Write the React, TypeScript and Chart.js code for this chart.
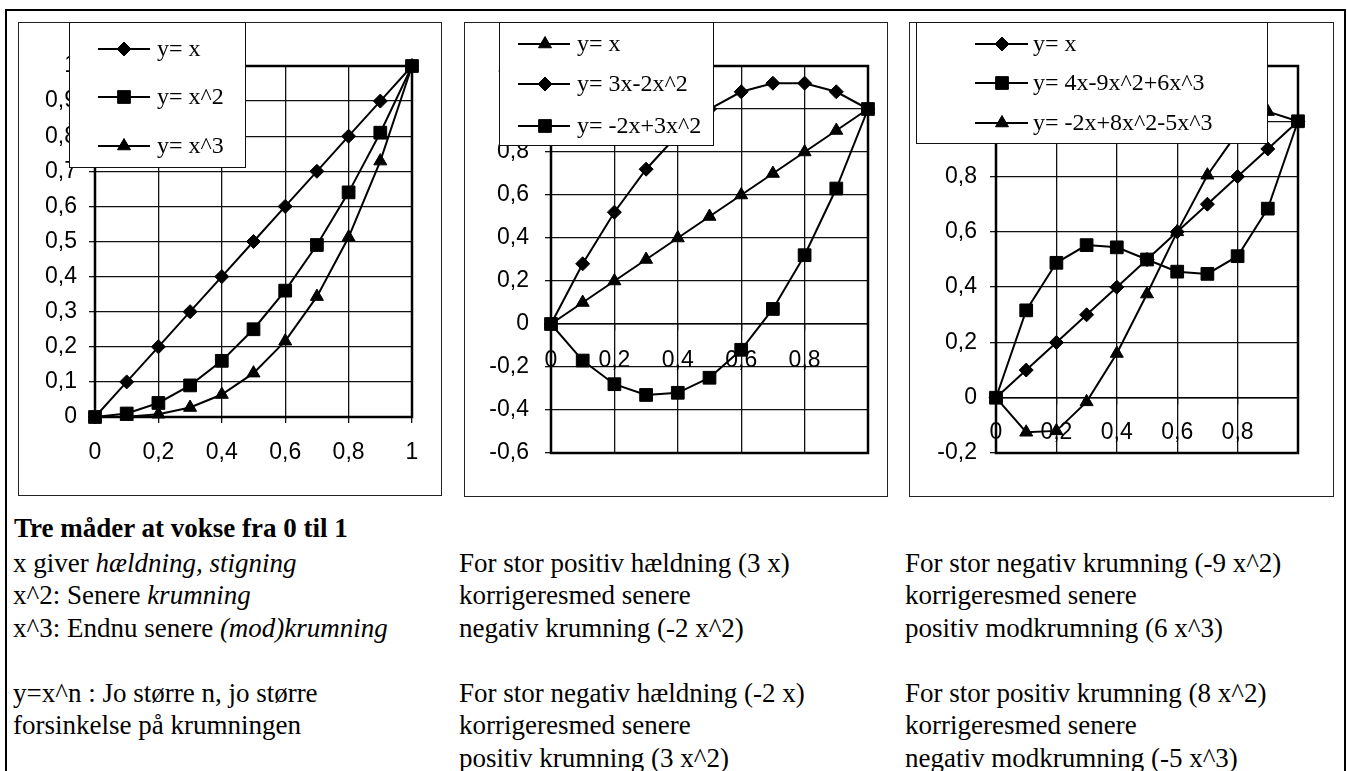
import React, { useEffect, useRef } from 'react';
import { Chart, registerables } from 'chart.js';

Chart.register(...registerables);

// ---------- DATA ----------
const xValues = [0, 0.1, 0.2, 0.3, 0.4, 0.5, 0.6, 0.7, 0.8, 0.9, 1];

const c1Labels = ['y= x', 'y= x^2', 'y= x^3'];
const c1Linear = [0, 0.1, 0.2, 0.3, 0.4, 0.5, 0.6, 0.7, 0.8, 0.9, 1];
const c1Square = [0, 0.01, 0.04, 0.09, 0.16, 0.25, 0.36, 0.49, 0.64, 0.81, 1];
const c1Cube = [0, 0.001, 0.008, 0.027, 0.064, 0.125, 0.216, 0.343, 0.512, 0.729, 1];

const c2Labels = ['y= x', 'y= 3x-2x^2', 'y= -2x+3x^2'];
const c2Linear = [0, 0.1, 0.2, 0.3, 0.4, 0.5, 0.6, 0.7, 0.8, 0.9, 1];
const c2Upper = [0, 0.28, 0.52, 0.72, 0.88, 1.0, 1.08, 1.12, 1.12, 1.08, 1.0];
const c2Lower = [0, -0.17, -0.28, -0.33, -0.32, -0.25, -0.12, 0.07, 0.32, 0.63, 1.0];

const c3Labels = ['y= x', 'y= 4x-9x^2+6x^3', 'y= -2x+8x^2-5x^3'];
const c3Linear = [0, 0.1, 0.2, 0.3, 0.4, 0.5, 0.6, 0.7, 0.8, 0.9, 1];
const c3CubicA = [0, 0.316, 0.488, 0.552, 0.544, 0.5, 0.456, 0.448, 0.512, 0.684, 1];
const c3CubicB = [0, -0.125, -0.12, -0.015, 0.16, 0.375, 0.6, 0.805, 0.96, 1.035, 1];

// ---------- STYLE ----------
const SERIF = '"Liberation Serif", "Times New Roman", "DejaVu Serif", serif';
const SANS = '"Liberation Sans", Arial, sans-serif';

type Marker = 'rectRot' | 'rect' | 'triangle';
const MARK_R: Record<Marker, number> = { rectRot: 7, rect: 9, triangle: 7.5 };

function fmt(v: number): string {
  const r = Math.round(v * 10) / 10;
  if (Math.abs(r) < 1e-9) return '0';
  return String(r).replace('.', ',');
}

function drawMarker(ctx: CanvasRenderingContext2D, style: Marker, x: number, y: number) {
  const r = MARK_R[style];
  ctx.beginPath();
  if (style === 'rectRot') {
    ctx.moveTo(x, y - r);
    ctx.lineTo(x + r, y);
    ctx.lineTo(x, y + r);
    ctx.lineTo(x - r, y);
  } else if (style === 'rect') {
    const s = Math.SQRT1_2 * r;
    ctx.rect(x - s, y - s, 2 * s, 2 * s);
  } else {
    for (let k = 0; k < 3; k++) {
      const a = (k * 2 * Math.PI) / 3;
      const px = x + Math.sin(a) * r;
      const py = y - Math.cos(a) * r;
      if (k === 0) ctx.moveTo(px, py);
      else ctx.lineTo(px, py);
    }
  }
  ctx.closePath();
  ctx.fill();
  ctx.stroke();
}

interface LegendSpec {
  x: number; y: number; w: number; h: number;
  lx1: number; lx2: number; mx: number; tx: number; rows: number[];
}

interface ChartSpec {
  left: number; top: number; width: number; height: number;
  labels: string[]; series: number[][]; markers: Marker[];
  yMin: number; yMax: number; yStep: number;
  yWidth: number; yPad: number;
  xAtZero: boolean; xHeight: number; xPad: number;
  padRight: number; padBottom: number;
  hideLastX: boolean;
  legend: LegendSpec;
}

const charts: ChartSpec[] = [
  {
    left: 18, top: 22, width: 424, height: 474,
    labels: c1Labels, series: [c1Linear, c1Square, c1Cube], markers: ['rectRot', 'rect', 'triangle'],
    yMin: 0, yMax: 1, yStep: 0.1, yWidth: 77, yPad: 12,
    xAtZero: false, xHeight: 79, xPad: 16, padRight: 30, padBottom: 0, hideLastX: false,
    legend: { x: 51, y: 0, w: 177, h: 146, lx1: 80, lx2: 132, mx: 106, tx: 139, rows: [27, 75, 124] },
  },
  {
    left: 464, top: 22, width: 424, height: 475,
    labels: c2Labels, series: [c2Linear, c2Upper, c2Lower], markers: ['triangle', 'rectRot', 'rect'],
    yMin: -0.6, yMax: 1.2, yStep: 0.2, yWidth: 87, yPad: 16,
    xAtZero: true, xHeight: 0, xPad: 17, padRight: 20, padBottom: 44, hideLastX: true,
    legend: { x: 35, y: 0, w: 215, h: 124, lx1: 54, lx2: 106, mx: 81, tx: 113, rows: [22, 62, 104] },
  },
  {
    left: 909, top: 22, width: 425, height: 475,
    labels: c3Labels, series: [c3Linear, c3CubicA, c3CubicB], markers: ['rectRot', 'rect', 'triangle'],
    yMin: -0.2, yMax: 1.2, yStep: 0.2, yWidth: 87, yPad: 13,
    xAtZero: true, xHeight: 0, xPad: 15, padRight: 36, padBottom: 44, hideLastX: true,
    legend: { x: 7, y: 0, w: 352, h: 122, lx1: 66, lx2: 119, mx: 93, tx: 124, rows: [22, 61, 101] },
  },
];

function ChartBox({ spec }: { spec: ChartSpec }) {
  const ref = useRef<HTMLCanvasElement | null>(null);
  useEffect(() => {
    if (!ref.current) return;
    const lg = spec.legend;
    const framePlugin = {
      id: 'frame',
      beforeDraw(chart: any) {
        const ctx = chart.ctx;
        ctx.save();
        ctx.fillStyle = '#fff';
        ctx.fillRect(0, 0, chart.width, chart.height);
        ctx.strokeStyle = '#222';
        ctx.lineWidth = 1;
        ctx.strokeRect(0.5, 0.5, chart.width - 1, chart.height - 1);
        ctx.restore();
      },
      beforeDatasetsDraw(chart: any) {
        const ctx = chart.ctx;
        const a = chart.chartArea;
        ctx.save();
        ctx.strokeStyle = '#000';
        ctx.lineWidth = 2.5;
        ctx.strokeRect(Math.round(a.left), Math.round(a.top), Math.round(a.right - a.left), Math.round(a.bottom - a.top));
        ctx.restore();
      },
    };
    const legendPlugin = {
      id: 'boxLegend',
      afterDraw(chart: any) {
        const ctx = chart.ctx;
        ctx.save();
        ctx.fillStyle = '#fff';
        ctx.fillRect(lg.x, lg.y, lg.w, lg.h);
        ctx.strokeStyle = '#111';
        ctx.lineWidth = 1;
        ctx.strokeRect(lg.x + 0.5, lg.y + 0.5, lg.w - 1, lg.h - 1);
        spec.labels.forEach((label, i) => {
          const ry = lg.rows[i];
          ctx.strokeStyle = '#000';
          ctx.lineWidth = 2;
          ctx.beginPath();
          ctx.moveTo(lg.lx1, ry);
          ctx.lineTo(lg.lx2, ry);
          ctx.stroke();
          ctx.fillStyle = '#000';
          ctx.lineWidth = 1;
          drawMarker(ctx, spec.markers[i], lg.mx, ry);
          ctx.font = `24px ${SERIF}`;
          ctx.textBaseline = 'middle';
          ctx.textAlign = 'left';
          ctx.fillText(label, lg.tx, ry + 1);
        });
        ctx.restore();
      },
    };

    const chart = new Chart(ref.current, {
      type: 'scatter',
      data: {
        datasets: spec.series.map((vals, i) => ({
          label: spec.labels[i],
          data: xValues.map((x, j) => ({ x, y: vals[j] })),
          showLine: true,
          borderColor: '#000',
          backgroundColor: '#000',
          borderWidth: 2,
          pointStyle: spec.markers[i],
          pointRadius: MARK_R[spec.markers[i]],
          pointHoverRadius: MARK_R[spec.markers[i]],
          pointBorderWidth: 1,
          pointBackgroundColor: '#000',
          pointBorderColor: '#000',
          clip: false,
          tension: 0,
        })),
      },
      options: {
        responsive: false,
        animation: false,
        events: [],
        layout: { padding: { left: 0, top: 44, right: spec.padRight, bottom: spec.padBottom } },
        plugins: { legend: { display: false }, tooltip: { enabled: false } },
        scales: {
          x: {
            type: 'linear',
            min: 0,
            max: 1,
            position: spec.xAtZero ? { y: 0 } : 'bottom',
            ticks: {
              stepSize: 0.2,
              padding: spec.xPad,
              color: '#000',
              maxRotation: 0,
              autoSkip: false,
              font: { family: SANS, size: 23 },
              callback: (v: any) => (spec.hideLastX && Math.abs(Number(v) - 1) < 1e-9 ? '' : fmt(Number(v))),
            },
            grid: { color: '#111', lineWidth: 1.3, tickLength: 6, drawTicks: true },
            border: { display: spec.xAtZero, color: '#000', width: 1.5 },
            afterFit: spec.xAtZero ? undefined : (s: any) => { s.height = spec.xHeight; },
          } as any,
          y: {
            type: 'linear',
            min: spec.yMin,
            max: spec.yMax,
            ticks: {
              stepSize: spec.yStep,
              padding: spec.yPad,
              color: '#000',
              font: { family: SANS, size: 23 },
              callback: (v: any) => fmt(Number(v)),
            },
            grid: { color: '#111', lineWidth: 1.3, tickLength: 6, drawTicks: true },
            border: { display: false },
            afterFit: (s: any) => { s.width = spec.yWidth; },
          } as any,
        },
      },
      plugins: [framePlugin, legendPlugin],
    } as any);
    return () => chart.destroy();
  }, [spec]);
  return (
    <canvas
      ref={ref}
      width={spec.width}
      height={spec.height}
      style={{ position: 'absolute', left: spec.left, top: spec.top, width: spec.width, height: spec.height }}
    />
  );
}

const LINE_H = 32.5;
const textStyle: React.CSSProperties = {
  position: 'absolute',
  fontFamily: SERIF,
  fontSize: 27,
  lineHeight: `${LINE_H}px`,
  whiteSpace: 'nowrap',
  color: '#000',
};

function Line({ x, cy, children, bold }: { x: number; cy: number; children: React.ReactNode; bold?: boolean }) {
  return (
    <div style={{ ...textStyle, left: x, top: cy - LINE_H / 2, fontWeight: bold ? 'bold' : 'normal' }}>{children}</div>
  );
}

export default function App() {
  const rows = [563, 595.5, 628, 693, 725.5, 758];
  return (
    <div style={{ position: 'absolute', left: 0, top: 0, width: 1347, height: 771, overflow: 'hidden', background: '#fff' }}>
      <div style={{ position: 'absolute', left: 5, top: 9, width: 1341, height: 900, border: '2px solid #000', boxSizing: 'border-box' }} />
      {charts.map((c, i) => (
        <ChartBox key={i} spec={c} />
      ))}
      <Line x={14} cy={528} bold>Tre måder at vokse fra 0 til 1</Line>
      <Line x={13} cy={rows[0]}>x giver <i>hældning, stigning</i></Line>
      <Line x={13} cy={rows[1]}>x^2: Senere <i>krumning</i></Line>
      <Line x={13} cy={rows[2]}>x^3: Endnu senere <i>(mod)krumning</i></Line>
      <Line x={13} cy={rows[3]}>y=x^n : Jo større n, jo større</Line>
      <Line x={13} cy={rows[4]}>forsinkelse på krumningen</Line>

      <Line x={459} cy={rows[0]}>For stor positiv hældning (3 x)</Line>
      <Line x={459} cy={rows[1]}>korrigeresmed senere</Line>
      <Line x={459} cy={rows[2]}>negativ krumning (-2 x^2)</Line>
      <Line x={459} cy={rows[3]}>For stor negativ hældning (-2 x)</Line>
      <Line x={459} cy={rows[4]}>korrigeresmed senere</Line>
      <Line x={459} cy={rows[5]}>positiv krumning (3 x^2)</Line>

      <Line x={905} cy={rows[0]}>For stor negativ krumning (-9 x^2)</Line>
      <Line x={905} cy={rows[1]}>korrigeresmed senere</Line>
      <Line x={905} cy={rows[2]}>positiv modkrumning (6 x^3)</Line>
      <Line x={905} cy={rows[3]}>For stor positiv krumning (8 x^2)</Line>
      <Line x={905} cy={rows[4]}>korrigeresmed senere</Line>
      <Line x={905} cy={rows[5]}>negativ modkrumning (-5 x^3)</Line>
    </div>
  );
}
